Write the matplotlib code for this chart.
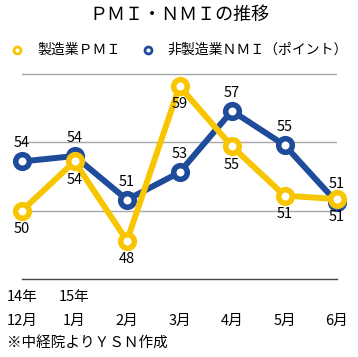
import matplotlib.pyplot as plt
from matplotlib.transforms import blended_transform_factory

plt.rcParams['font.family'] = ['Noto Sans CJK JP', 'DejaVu Sans']

months = ["12月", "1月", "2月", "3月", "4月", "5月", "6月"]
years = ["14年", "15年"]
pmi = [50.0, 53.6, 47.8, 59.1, 54.7, 51.1, 50.85]
nmi = [53.6, 54.0, 50.8, 52.8, 57.3, 54.8, 50.6]
pmi_labels = ["50", "54", "48", "59", "55", "51", "51"]
nmi_labels = ["54", "54", "51", "53", "57", "55", "51"]
grid_vals = [50, 55, 60]

yellow = "#F7C600"
blue = "#1F4B9B"

fig = plt.figure(figsize=(3.58, 3.57), dpi=100)
ax = fig.add_axes([22 / 358, 1 - 279 / 357, 315 / 358, 207.7 / 357])

x = list(range(len(months)))
ax.plot(x, nmi, color=blue, lw=4.3, marker="o", ms=9.8, mew=4.0,
        mfc="white", mec=blue, zorder=3, clip_on=False)
ax.plot(x, pmi, color=yellow, lw=4.3, marker="o", ms=9.8, mew=4.0,
        mfc="white", mec=yellow, zorder=4, clip_on=False)

for xi, v, s in zip(x, nmi, nmi_labels):
    ax.annotate(s, (xi, v), xytext=(0, 13), textcoords="offset points",
                ha="center", va="center", fontsize=10.5, zorder=5)
for xi, v, s in zip(x, pmi, pmi_labels):
    ax.annotate(s, (xi, v), xytext=(0, -13), textcoords="offset points",
                ha="center", va="center", fontsize=10.5, zorder=5)

ax.set_xlim(0, 6)
ax.set_ylim(45, 60.2)
for g in grid_vals:
    ax.axhline(g, color="#A8A8A8", lw=1.0, zorder=1)
ax.tick_params(left=False, bottom=False, labelleft=False, labelbottom=False)
for side in ["left", "right", "top"]:
    ax.spines[side].set_visible(False)
ax.spines["bottom"].set_color("#444444")
ax.spines["bottom"].set_linewidth(1.0)

tr = blended_transform_factory(ax.transData, fig.transFigure)
for xi, m in zip(x, months):
    ax.text(xi, 1 - 321 / 357, m, transform=tr, ha="center", va="center",
            fontsize=10.5)
for xi, yr in zip(x[:2], years):
    ax.text(xi, 1 - 297 / 357, yr, transform=tr, ha="center", va="center",
            fontsize=10.5)

fig.text(7 / 358, 1 - 343 / 357, "※中経院よりＹＳＮ作成", ha="left", va="center",
         fontsize=10.5)

fig.text(0.5, 1 - 15 / 357, "ＰＭＩ・ＮＭＩの推移", ha="center", va="center",
         fontsize=13)

# legend drawn as markers + text
fig.lines.append(plt.Line2D([17 / 358], [1 - 50 / 357], marker="o", ms=5,
                            mew=2.0, mfc="white", mec=yellow,
                            transform=fig.transFigure))
fig.text(37 / 358, 1 - 50 / 357, "製造業ＰＭＩ", ha="left", va="center",
         fontsize=10)
fig.lines.append(plt.Line2D([148 / 358], [1 - 50 / 357], marker="o", ms=5,
                            mew=2.0, mfc="white", mec=blue,
                            transform=fig.transFigure))
fig.text(167 / 358, 1 - 50 / 357, "非製造業ＮＭＩ（ポイント）", ha="left",
         va="center", fontsize=10)

fig.savefig("out.png", dpi=100)
